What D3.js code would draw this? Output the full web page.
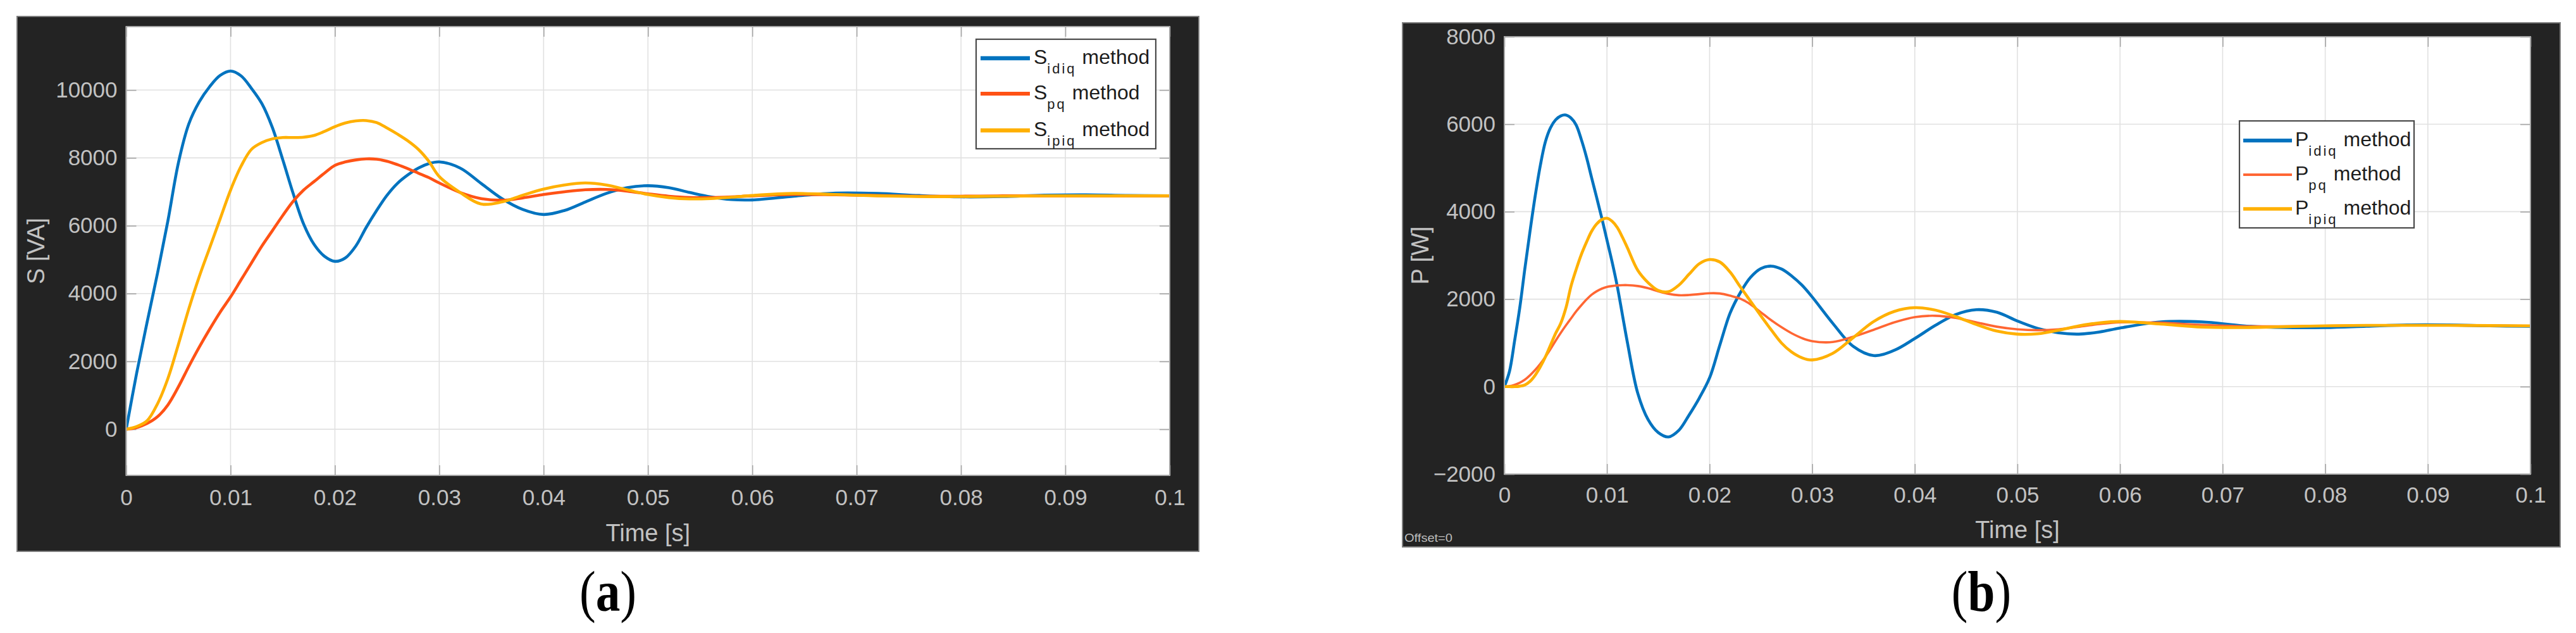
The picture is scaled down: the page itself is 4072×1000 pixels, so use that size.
<!DOCTYPE html>
<html><head><meta charset="utf-8">
<script src="https://cdn.jsdelivr.net/npm/d3@7"></script>
<style>body{margin:0;background:#fff;}svg{display:block;}</style>
</head><body>
<svg id="c" width="4072" height="1000"></svg>
<script>
// ---------- DATA ----------
const xTickValues = [0, 0.01, 0.02, 0.03, 0.04, 0.05, 0.06, 0.07, 0.08, 0.09, 0.1];
const yTicksS = [0, 2000, 4000, 6000, 8000, 10000];
const yTicksP = [-2000, 0, 2000, 4000, 6000, 8000];
const seriesNames = ["idiq", "pq", "ipiq"];

const timeS = [0,0.001,0.002,0.003,0.004,0.005,0.006,0.007,0.008,0.009,0.010,
  0.011,0.012,0.013,0.014,0.015,0.016,0.017,0.018,0.019,0.020,
  0.021,0.022,0.023,0.024,0.025,0.026,0.027,0.028,0.029,0.030,
  0.032,0.034,0.036,0.038,0.040,0.042,0.044,0.046,0.048,0.050,0.052,0.054,0.056,0.058,0.060,
  0.064,0.068,0.072,0.076,0.080,0.084,0.088,0.092,0.096,0.100];
const sIdiq = [0,1650,3150,4600,6150,7850,9000,9650,10100,10430,10560,
  10420,10050,9600,8900,7950,6950,6050,5450,5100,4950,
  5050,5400,5950,6450,6900,7250,7500,7700,7830,7880,
  7700,7250,6800,6480,6330,6450,6700,6950,7120,7180,7120,6980,6850,6770,6760,
  6870,6960,6950,6890,6850,6860,6900,6910,6890,6880];
const sPq = [0,50,170,370,720,1250,1850,2420,2950,3450,3900,
  4400,4900,5400,5850,6300,6720,7050,7300,7550,7780,
  7880,7940,7970,7960,7900,7800,7680,7550,7420,7260,
  6980,6800,6750,6820,6920,7000,7060,7070,7020,6940,6870,6830,6830,6850,6880,
  6920,6910,6890,6870,6870,6880,6880,6880,6880,6880];
const sIpiq = [0,80,250,750,1500,2500,3550,4500,5350,6200,7050,
  7750,8250,8450,8560,8600,8600,8610,8660,8780,8920,
  9030,9090,9100,9040,8880,8700,8500,8250,7900,7450,
  6980,6640,6700,6900,7080,7200,7260,7200,7060,6920,6830,6790,6800,6840,6890,
  6950,6920,6880,6860,6860,6870,6880,6880,6880,6880];

const timeP = [0,0.0005,0.001,0.0015,0.002,0.0025,0.003,0.0035,0.004,0.0045,0.005,0.0055,0.006,
  0.0065,0.007,0.0075,0.008,0.0085,0.009,0.0095,0.010,0.0105,0.011,0.0115,0.012,
  0.013,0.014,0.015,0.016,0.017,0.018,0.019,0.020,0.021,0.022,0.023,0.024,0.025,0.026,0.027,0.028,0.029,0.030,
  0.032,0.034,0.036,0.038,0.040,0.042,0.044,0.046,0.048,0.050,0.052,0.054,0.056,0.058,0.060,
  0.064,0.068,0.072,0.076,0.080,0.084,0.088,0.092,0.096,0.100];
const pIdiq = [0,350,1050,1800,2700,3550,4350,5050,5600,5920,6100,6190,6210,
  6140,5980,5650,5250,4780,4320,3850,3350,2850,2300,1650,1000,
  -150,-750,-1050,-1150,-1000,-650,-260,200,950,1680,2150,2500,2700,2755,2690,2530,2320,2050,
  1450,920,710,830,1100,1400,1650,1760,1700,1500,1330,1230,1200,1250,1340,
  1480,1480,1390,1350,1350,1380,1410,1410,1390,1380];
const pPq = [0,10,40,90,160,260,380,520,680,860,1050,1230,1400,
  1560,1720,1860,1990,2100,2180,2240,2280,2300,2315,2320,2320,
  2300,2250,2180,2120,2090,2095,2115,2135,2130,2080,2010,1880,1700,1520,1360,1220,1110,1040,
  1020,1140,1300,1470,1590,1620,1570,1470,1370,1310,1290,1310,1370,1430,1470,
  1460,1410,1380,1380,1390,1400,1400,1400,1395,1390];
const pIpiq = [0,0,0,10,40,120,260,450,680,950,1220,1450,1800,
  2300,2680,3020,3300,3550,3720,3820,3850,3780,3640,3420,3170,
  2660,2380,2200,2170,2320,2570,2810,2905,2850,2620,2280,1950,1620,1300,1000,790,660,610,
  760,1120,1490,1720,1805,1750,1600,1420,1270,1200,1210,1290,1390,1460,1490,
  1430,1360,1350,1370,1390,1400,1400,1400,1395,1390];

// ---------- DRAWING ----------
const svg = d3.select('#c');
svg.append('rect').attr('width',4072).attr('height',1000).attr('fill','#fff');
const FONT = "'Liberation Sans', Arial, Helvetica, sans-serif";
const LABEL = '#c2c2c2';
const fmtX = d3.format('~g');

function drawChart(c, idx) {
  const g = svg.append('g');
  g.append('rect').attr('x',c.panel[0]).attr('y',c.panel[1])
    .attr('width',c.panel[2]-c.panel[0]).attr('height',c.panel[3]-c.panel[1])
    .attr('fill','#232323').attr('stroke','#7d7d7d').attr('stroke-width',2);
  const x = d3.scaleLinear().domain([0,0.1]).range([c.plot[0], c.plot[1]]);
  const y = d3.scaleLinear().domain(c.yDomain).range([c.plot[3], c.plot[2]]);
  const pw = c.plot[1]-c.plot[0], ph = c.plot[3]-c.plot[2];
  g.append('rect').attr('x',c.plot[0]).attr('y',c.plot[2]).attr('width',pw).attr('height',ph).attr('fill','#fff');

  // grid
  g.append('g').selectAll('line').data(xTickValues).join('line')
    .attr('x1',d=>x(d)).attr('x2',d=>x(d)).attr('y1',c.plot[2]).attr('y2',c.plot[3])
    .attr('stroke','#e1e1e1').attr('stroke-width',1.6);
  g.append('g').selectAll('line').data(c.yTicks).join('line')
    .attr('y1',d=>y(d)).attr('y2',d=>y(d)).attr('x1',c.plot[0]).attr('x2',c.plot[1])
    .attr('stroke','#e1e1e1').attr('stroke-width',1.6);

  // axes
  const styleAxis = (ax) => {
    ax.attr('font-family', FONT).attr('font-size', 35);
    ax.selectAll('.tick line').attr('stroke','#a5a5a5').attr('stroke-width',1.6);
    ax.selectAll('.tick text').attr('fill', LABEL);
    ax.select('.domain').attr('stroke','none');
  };
  const axB = g.append('g').attr('transform',`translate(0,${c.plot[3]})`)
    .call(d3.axisBottom(x).tickValues(xTickValues).tickFormat(fmtX).tickSizeInner(-16).tickSizeOuter(0).tickPadding(c.xPad));
  styleAxis(axB);
  const axT = g.append('g').attr('transform',`translate(0,${c.plot[2]})`)
    .call(d3.axisTop(x).tickValues(xTickValues).tickFormat('').tickSizeInner(-16).tickSizeOuter(0));
  styleAxis(axT);
  const axL = g.append('g').attr('transform',`translate(${c.plot[0]},0)`)
    .call(d3.axisLeft(y).tickValues(c.yTicks).tickFormat(d3.format('d')).tickSizeInner(-16).tickSizeOuter(0).tickPadding(c.yPad));
  styleAxis(axL);
  const axR = g.append('g').attr('transform',`translate(${c.plot[1]},0)`)
    .call(d3.axisRight(y).tickValues(c.yTicks).tickFormat('').tickSizeInner(-16).tickSizeOuter(0));
  styleAxis(axR);

  // lines
  const clipId = 'clip' + idx;
  svg.append('defs').append('clipPath').attr('id',clipId).append('rect')
    .attr('x',c.plot[0]).attr('y',c.plot[2]).attr('width',pw).attr('height',ph);
  const lineGen = d3.line().x(d=>x(d[0])).y(d=>y(d[1])).curve(d3.curveCatmullRom.alpha(0.5));
  const lg = g.append('g').attr('clip-path',`url(#${clipId})`);
  c.series.forEach(s => {
    lg.append('path').datum(c.time.map((t,i)=>[t, s.values[i]]))
      .attr('d', lineGen).attr('fill','none').attr('stroke', s.color)
      .attr('stroke-width', s.width).attr('stroke-linejoin','round').attr('stroke-linecap','round');
  });

  // frame
  g.append('rect').attr('x',c.plot[0]).attr('y',c.plot[2]).attr('width',pw).attr('height',ph)
    .attr('fill','none').attr('stroke','#a8a8a8').attr('stroke-width',2);

  // axis labels
  g.append('text').attr('x',(c.plot[0]+c.plot[1])/2).attr('y',c.xlabelY)
    .attr('text-anchor','middle').attr('font-family',FONT).attr('font-size',38).attr('fill',LABEL)
    .text('Time [s]');
  g.append('text').attr('transform',`translate(${c.ylabelX},${(c.plot[2]+c.plot[3])/2}) rotate(-90)`)
    .attr('text-anchor','middle').attr('dominant-baseline','central')
    .attr('font-family',FONT).attr('font-size',38).attr('fill',LABEL).text(c.ylabel);

  // legend
  const L = c.legend;
  const leg = g.append('g');
  leg.append('rect').attr('x',L.box[0]).attr('y',L.box[1]).attr('width',L.box[2]-L.box[0]).attr('height',L.box[3]-L.box[1])
    .attr('fill','#fff').attr('stroke','#4a4a4a').attr('stroke-width',2.2);
  c.series.forEach((s,i) => {
    const ry = L.rows[i];
    leg.append('line').attr('x1',L.line[0]).attr('x2',L.line[1]).attr('y1',ry).attr('y2',ry)
      .attr('stroke',s.color).attr('stroke-width',s.legendWidth);
    const t = leg.append('text').attr('x',L.textX).attr('y',ry+9)
      .attr('font-family',FONT).attr('font-size',32).attr('fill','#1c1c1c');
    t.append('tspan').text(c.letter);
    t.append('tspan').attr('font-size',22).attr('letter-spacing',3).attr('dy',15).text(s.sub);
    t.append('tspan').attr('font-size',32).attr('dy',-15).attr('dx',9).text('method');
  });

  // caption
  const cap = svg.append('text').attr('transform',`translate(${c.captionX},965) scale(0.84,1)`)
    .attr('text-anchor','middle').attr('font-family',"'Liberation Serif','Times New Roman',serif")
    .attr('font-size',92).attr('fill','#000');
  cap.append('tspan').text('(');
  cap.append('tspan').attr('font-weight','bold').text(c.caption);
  cap.append('tspan').text(')');
}

const colS = ['#0073BF', '#FF5215', '#FFB000'];
const colP = ['#0073BF', '#FF6633', '#FFB000'];

drawChart({
  panel:[27,26,1895,871], plot:[199.5,1849,42,751], yDomain:[-1360,11870], yTicks:yTicksS,
  time:timeS, letter:'S', ylabel:'S [VA]', ylabelX:57, xlabelY:855, xPad:22, yPad:14,
  series:[
    {values:sIdiq, color:colS[0], width:4.6, legendWidth:6.5, sub:seriesNames[0]},
    {values:sPq, color:colS[1], width:4.6, legendWidth:6, sub:seriesNames[1]},
    {values:sIpiq, color:colS[2], width:4.6, legendWidth:6.3, sub:seriesNames[2]}],
  legend:{box:[1543,62,1827,235], line:[1550,1628], textX:1634, rows:[92,148,206]},
  caption:'a', captionX:961
}, 0);

drawChart({
  panel:[2217,36,4047,864], plot:[2378,4000,58,749], yDomain:[-2000,8000], yTicks:yTicksP,
  time:timeP, letter:'P', ylabel:'P [W]', ylabelX:2245, xlabelY:850, xPad:20, yPad:14,
  series:[
    {values:pIdiq, color:colP[0], width:4.6, legendWidth:6, sub:seriesNames[0]},
    {values:pPq, color:colP[1], width:3.6, legendWidth:4, sub:seriesNames[1]},
    {values:pIpiq, color:colP[2], width:4.6, legendWidth:5.7, sub:seriesNames[2]}],
  legend:{box:[3540,191,3816,360], line:[3546,3623], textX:3628, rows:[222,276,330]},
  caption:'b', captionX:3132
}, 1);

svg.append('text').attr('x',2220).attr('y',856).attr('font-family',FONT).attr('font-size',19)
  .attr('fill','#bdbdbd').attr('textLength',76).attr('lengthAdjust','spacingAndGlyphs').text('Offset=0');
</script>
</body></html>
